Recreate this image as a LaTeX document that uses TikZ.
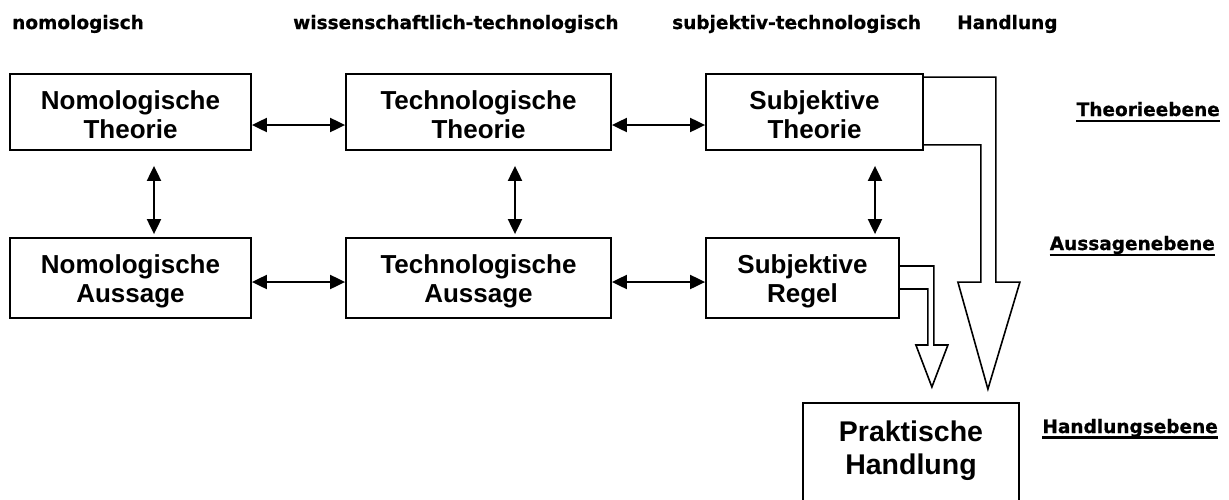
\documentclass[tikz,border=0pt]{standalone}
\usepackage{fontspec}
\setmainfont{Liberation Sans}
\newfontfamily\verdfont{DejaVu Sans}[BoldFeatures={FakeBold=0.8}]
\usetikzlibrary{arrows.meta}
\begin{document}
\begin{tikzpicture}[x=1pt,y=-1pt,
  box/.style={draw,line width=1.8pt,inner sep=0pt},
  boxlabel/.style={font=\fontsize{26}{29}\selectfont\bfseries,align=center},
  biglabel/.style={font=\fontsize{28.5}{33}\selectfont\bfseries,align=center},
  dbl/.style={{Triangle[length=15pt,width=14pt]}-{Triangle[length=15pt,width=14pt]},line width=2pt},
  hollow/.style={draw,line width=1.6pt,line join=miter},
  head/.style={font=\verdfont\bfseries\fontsize{18.5}{22}\selectfont,inner sep=0pt},
  uline/.style={line width=2.2pt}]
\clip (0,0) rectangle (1229,499);
\fill[white] (0,0) rectangle (1229,499);

% column headings
\node[head,anchor=base west] (h1) at (12,29) {nomologisch};
\node[head,anchor=base west] (h2) at (293,29) {wissenschaftlich-technologisch};
\node[head,anchor=base west] (h3) at (672,29) {subjektiv-technologisch};
\node[head,anchor=base west] (h4) at (957,29) {Handlung};

% level labels
\node[head,anchor=base east] (l1) at (1220,116) {Theorieebene};
\draw[uline] ([yshift=-5pt]l1.base west) -- ([yshift=-5pt]l1.base east);
\node[head,anchor=base east] (l2) at (1215,250) {Aussagenebene};
\draw[uline] ([yshift=-5pt]l2.base west) -- ([yshift=-5pt]l2.base east);
\node[head,anchor=base east] (l3) at (1218,433) {Handlungsebene};
\draw[uline] ([yshift=-4.5pt]l3.base west) -- ([yshift=-4.5pt]l3.base east);

% boxes
\node[box,minimum width=241pt,minimum height=76pt,
  label={[boxlabel,yshift=-3pt]center:{Nomologische\\Theorie}}] (nt) at (130.5,112) {};
\node[box,minimum width=241pt,minimum height=80pt,
  label={[boxlabel,yshift=-3pt]center:{Nomologische\\Aussage}}] (na) at (130.5,278) {};
\node[box,minimum width=265pt,minimum height=76pt,
  label={[boxlabel,yshift=-3pt]center:{Technologische\\Theorie}}] (tt) at (478.5,112) {};
\node[box,minimum width=265pt,minimum height=80pt,
  label={[boxlabel,yshift=-3pt]center:{Technologische\\Aussage}}] (ta) at (478.5,278) {};
\node[box,minimum width=217pt,minimum height=76pt,
  label={[boxlabel,yshift=-3pt]center:{Subjektive\\Theorie}}] (st) at (814.5,112) {};
\node[box,minimum width=193pt,minimum height=80pt,
  label={[boxlabel,yshift=-3pt]center:{Subjektive\\Regel}}] (sr) at (802.5,278) {};
\node[box,minimum width=216pt,minimum height=116pt,
  label={[biglabel,yshift=10pt]center:{Praktische\\Handlung}}] (ph) at (911,461) {};

% horizontal links
\draw[dbl] ([yshift=-13pt]nt.east) -- ([yshift=-13pt]tt.west);
\draw[dbl] ([yshift=-13pt]tt.east) -- ([yshift=-13pt]st.west);
\draw[dbl] ([yshift=-4pt]na.east) -- ([yshift=-4pt]ta.west);
\draw[dbl] ([yshift=-4pt]ta.east) -- ([yshift=-4pt]sr.west);

% vertical links
\draw[dbl] ([xshift=23.5pt,yshift=-15pt]nt.south) -- ([xshift=23.5pt,yshift=3pt]na.north);
\draw[dbl] ([xshift=36.5pt,yshift=-15pt]tt.south) -- ([xshift=36.5pt,yshift=3pt]ta.north);
\draw[dbl] ([xshift=60.5pt,yshift=-15pt]st.south) -- ([xshift=72.5pt,yshift=3pt]sr.north);

% hollow arrows into the practical action
\draw[hollow] ([yshift=-4pt]st.north east) -- ++(72,0) -- ++(0,205) -- ++(24,0)
  -- ++(-32,107) -- ++(-30,-107) -- ++(23,0) |- ([yshift=6pt]st.south east);
\draw[hollow] ([yshift=12pt]sr.east) -- ++(34,0) -- ++(0,79) -- ++(14,0)
  -- ++(-16,42) -- ++(-16,-42) -- ++(12,0) |- ([yshift=-11pt]sr.east);
\end{tikzpicture}
\end{document}
